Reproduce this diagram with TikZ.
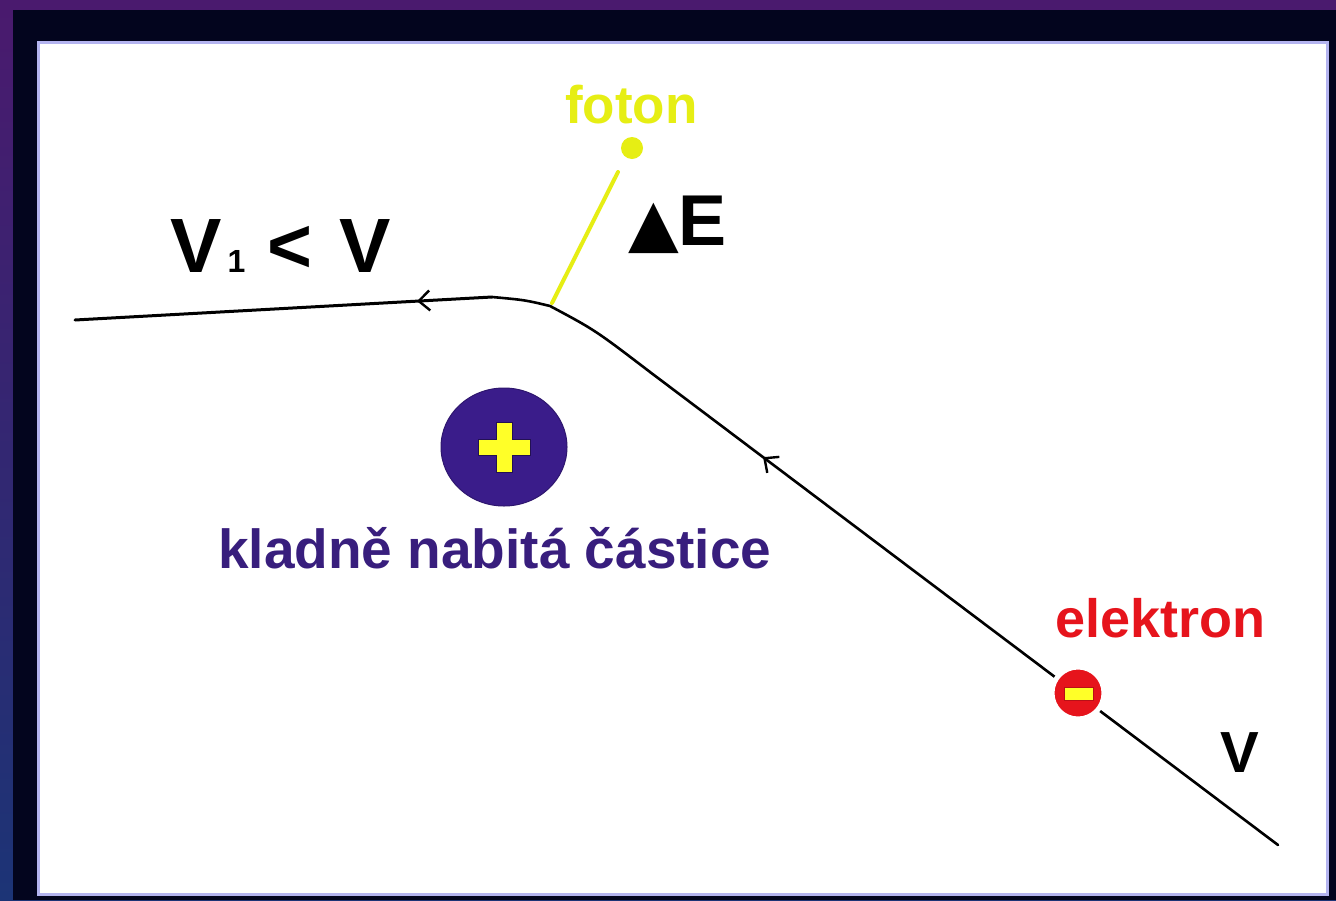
\documentclass[tikz,border=0pt]{standalone}
\usepackage{fontspec}
\setmainfont{Liberation Sans}
\newfontfamily\dejavu{DejaVu Sans}
\usetikzlibrary{arrows.meta,decorations.markings,shapes.geometric}
\definecolor{bgpurple}{RGB}{74,26,110}
\definecolor{bgblue}{RGB}{28,52,118}
\definecolor{frame}{RGB}{3,5,30}
\definecolor{panelborder}{RGB}{180,180,240}
\definecolor{indigo}{RGB}{58,28,138}
\definecolor{indigotext}{RGB}{56,30,125}
\definecolor{phyellow}{RGB}{230,238,20}
\definecolor{plusyellow}{RGB}{255,255,40}
\definecolor{elred}{RGB}{230,20,28}
\tikzset{
  trk/.style={line width=2.6, black, line cap=round, line join=round},
  arr/.style={postaction={decorate}, decoration={markings,
     mark=at position #1 with {\arrow{Straight Barb[length=11,width=20,line width=2.4]}}}},
  lbl/.style={inner sep=0, anchor=base west, font=\bfseries},
}
\begin{document}
\begin{tikzpicture}[x=1pt,y=-1pt]
\useasboundingbox (0,0) rectangle (1336,900);
% background
\shade[top color=bgpurple, bottom color=bgblue] (0,0) rectangle (1336,900);
\fill[frame] (13,10) rectangle (1336,900);
\draw[fill=white, draw=panelborder, line width=3] (38,42) rectangle (1327,894);

% trajectory points
\coordinate (A) at (75,320);
\coordinate (B) at (492,297);
\coordinate (C) at (550,306);
\coordinate (D) at (650,372);
\coordinate (E) at (1278,845);
\coordinate (P1) at (552,303);
\coordinate (P2) at (618,172);

\draw[trk, arr=0.82] (E) -- (D);
\draw[trk] (D) .. controls (595,330) .. (C) .. controls (525,300) .. (B);
\draw[trk, line width=3, arr=0.18] (B) -- (A);

% photon
\draw[phyellow, line width=4, line cap=round] (P1) -- (P2);
\node[circle, fill=phyellow, minimum size=22, inner sep=0] (ph) at (632,148) {};
\node[lbl, text=phyellow, font=\bfseries\fontsize{53}{60}\selectfont] (foton) at (565,123) {foton};
\node[lbl, font=\bfseries\fontsize{72}{80}\selectfont] (dE) at (628,245) {{\dejavu\fontsize{66}{70}\selectfont ▲}E};

% label V1 < V
\node[lbl, font=\bfseries\fontsize{77}{80}\selectfont] (v1) at (170,272) {V\kern6pt{\fontsize{32}{32}\selectfont 1}\hspace{22pt}<\hspace{27pt}V};

% positive particle
\node[ellipse, minimum width=126, minimum height=118, inner sep=0, fill=indigo, draw=indigo!80!black, line width=1] (pos) at (504,447) {};
\fill[plusyellow] (496,422) rectangle (512,472);
\fill[plusyellow] (478,439) rectangle (530,455);
\draw[indigo!60!black, line width=0.8] (496,422) -- (512,422) -- (512,439) -- (530,439) -- (530,455) -- (512,455) -- (512,472) -- (496,472) -- (496,455) -- (478,455) -- (478,439) -- (496,439) -- cycle;
\node[lbl, text=indigotext, font=\bfseries\fontsize{55}{60}\selectfont] (kl) at (218,568) {kladně nabitá částice};

% electron
\node[circle, fill=elred, draw=white, line width=5, minimum size=52, inner sep=0] (el) at (1078,693) {};
\draw[fill=plusyellow, draw=elred!80!black, line width=1] (1064,687) rectangle (1093,700);
\node[lbl, text=elred, font=\bfseries\fontsize{54}{60}\selectfont] (elt) at (1055,637) {elektron};
\node[lbl, font=\bfseries\fontsize{58}{60}\selectfont] (v) at (1220,772) {V};
\end{tikzpicture}
\end{document}
